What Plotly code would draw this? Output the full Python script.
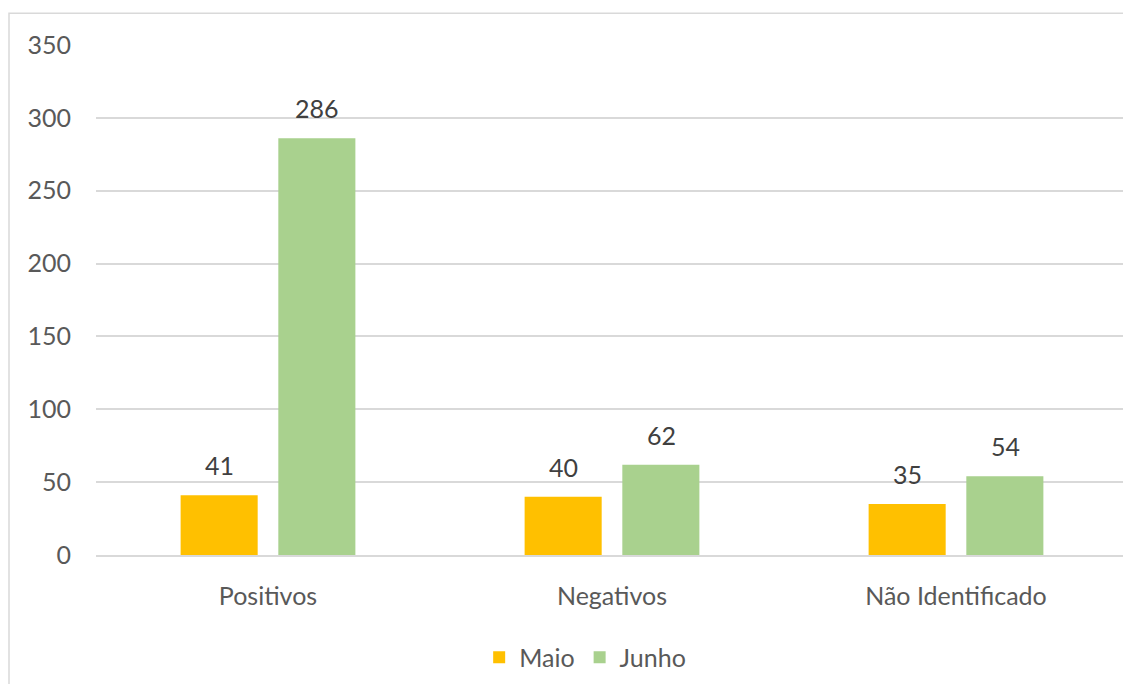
import plotly.graph_objects as go

categories = ["Positivos", "Negativos", "Não Identificado"]
maio = [41, 40, 35]
junho = [286, 62, 54]
series_names = ["Maio", "Junho"]
y_ticks = [0, 50, 100, 150, 200, 250, 300, 350]

FONT = "Lato"
FS = 25
colors = ["#FFC000", "#A9D18E"]
bar_w = 0.224
offsets = [-0.254, 0.030]
xshifts = [-49, 49]

fig = go.Figure()
for name, vals, col, off in zip(series_names, [maio, junho], colors, offsets):
    fig.add_trace(go.Bar(x=categories, y=vals, name=name, marker_color=col,
                         marker_line_width=0, width=bar_w, offset=off))

for vals, xs in zip([maio, junho], xshifts):
    for c, v in zip(categories, vals):
        fig.add_annotation(x=c, y=v, text=str(v), showarrow=False, xshift=xs,
                           yshift=30, yanchor="middle",
                           font=dict(family=FONT, size=FS, color="#404040"))

# page body adds an 8px offset; figure coordinates account for it
fig.add_shape(type="rect", xref="paper", yref="paper",
              x0=-0.0843, x1=1.05, y0=-0.3, y1=1.0625,
              line=dict(color="#D9D9D9", width=1.5), fillcolor="rgba(0,0,0,0)", layer="below")

fig.update_layout(
    width=1123, height=676,
    margin=dict(l=88, r=3, t=37, b=127),
    paper_bgcolor="white", plot_bgcolor="white",
    barmode="overlay",
    showlegend=True,
    legend=dict(orientation="h", x=0.474, y=-0.201, xanchor="center", yanchor="middle",
                font=dict(family=FONT, size=FS, color="#595959"), itemwidth=30,
                tracegroupgap=0),
    font=dict(family=FONT, size=FS, color="#595959"),
)
fig.update_yaxes(range=[0, 350], tickvals=y_ticks, showgrid=True, gridcolor="#D9D9D9",
                 gridwidth=1.5, zeroline=False, showline=False, ticks="",
                 ticklabelstandoff=24, tickfont=dict(family=FONT, size=FS, color="#595959"))
fig.update_xaxes(showgrid=False, showline=True, linecolor="#D9D9D9", linewidth=1.5,
                 ticks="", ticklabelstandoff=18,
                 tickfont=dict(family=FONT, size=FS, color="#595959"))

fig.write_html("out.html")
